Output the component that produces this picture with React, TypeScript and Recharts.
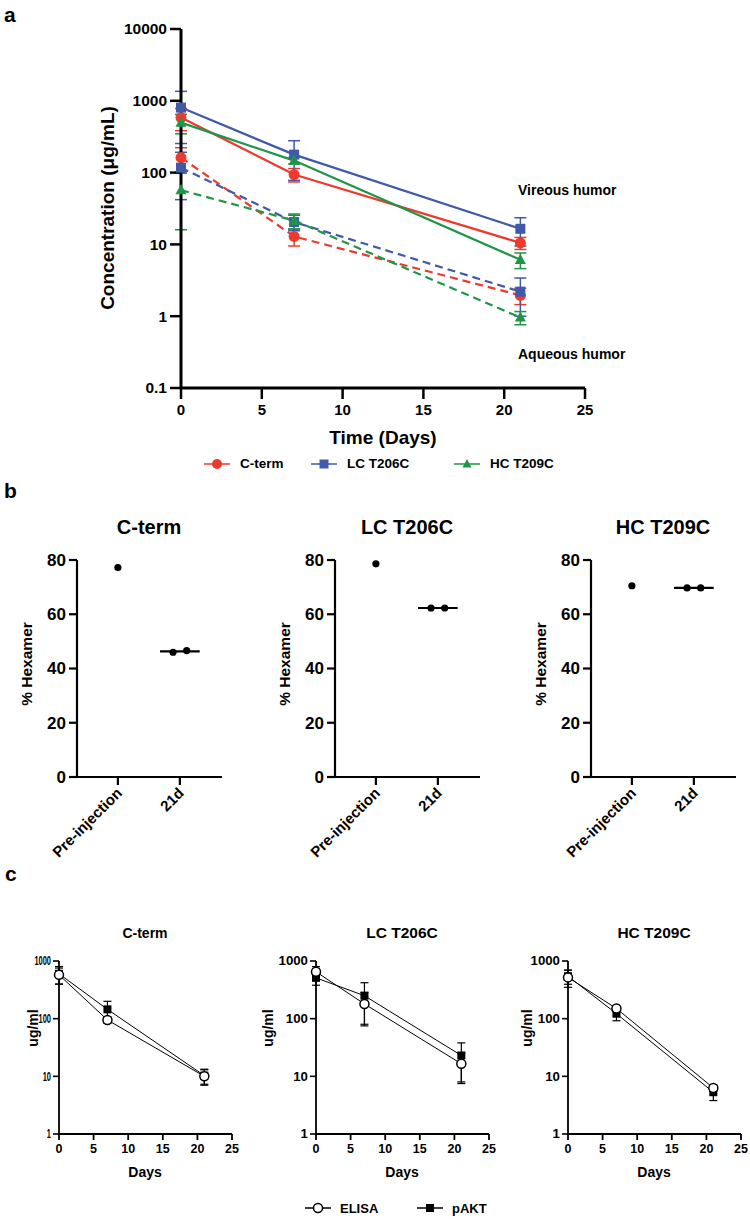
import React from 'react';
import { ErrorBar, Line, LineChart, ReferenceLine, Scatter, ScatterChart, XAxis, YAxis } from 'recharts';

const FONT = "'Liberation Sans', Arial, Helvetica, sans-serif";
const RED = '#EE3A2C';
const BLUE = '#4059A9';
const GREEN = '#1F9548';

// panel a: concentration in vitreous (solid) and aqueous (dashed) humor
const days = [0, 7, 21];
const vitreousCTerm = [584, 94, 10.5];
const vitreousCTermSd = [200, 20, 2];
const vitreousLc = [804, 178, 16.5];
const vitreousLcSd = [550, 100, 7];
const vitreousHc = [497, 147, 6.1];
const vitreousHcSd = [150, 15, 1.5];
const aqueousCTerm = [162, 12.9, 1.95];
const aqueousCTermSd = [60, 3.4, 0.5];
const aqueousLc = [117, 20.5, 2.2];
const aqueousLcSd = [75, 5, 1.2];
const aqueousHc = [57, 21.5, 0.96];
const aqueousHcSd = [41, 5, 0.2];

const concTicks = [0.1, 1, 10, 100, 1000, 10000];
const dayMajorTicks = [0, 5, 10, 15, 20, 25];
const dayTicks = [0, 1, 2, 3, 4, 5, 6, 7, 8, 9, 10, 11, 12, 13, 14, 15, 16, 17, 18, 19, 20, 21, 22, 23, 24, 25];

// panel b: % hexamer
const hexCategories = ['Pre-injection', '21d'];
const hexTicks = [0, 20, 40, 60, 80];
const hexPreCTerm = [77.2];
const hex21dCTerm = [46.0, 46.6];
const hexPreLc = [78.6];
const hex21dLc = [62.3, 62.3];
const hexPreHc = [70.5];
const hex21dHc = [69.7, 69.7];

// panel c: ELISA vs pAKT
const pkDays = [0, 7, 21];
const pkDayTicks = [0, 5, 10, 15, 20, 25];
const pkTicks = [1, 2, 3, 4, 5, 6, 7, 8, 9, 10, 20, 30, 40, 50, 60, 70, 80, 90, 100, 200, 300, 400, 500, 600, 700, 800, 900, 1000];
const pkMajor = [1, 10, 100, 1000];
const elisaCTerm = [575, 95, 10];
const elisaCTermSd = [180, 12, 3];
const paktCTerm = [600, 145, 10.3];
const paktCTermSd = [200, 55, 3];
const elisaLc = [650, 180, 16.5];
const elisaLcSd = [150, 105, 9];
const paktLc = [510, 250, 23];
const paktLcSd = [130, 170, 15];
const elisaHc = [520, 150, 6.3];
const elisaHcSd = [170, 10, 0.8];
const paktHc = [545, 122, 5.3];
const paktHcSd = [150, 30, 1.5];

type Shape = 'circle' | 'square' | 'triangle' | 'open';

const concSeries = [
  { key: 'vitC', values: vitreousCTerm, sds: vitreousCTermSd, color: RED, shape: 'circle' as Shape, dashed: false },
  { key: 'vitLc', values: vitreousLc, sds: vitreousLcSd, color: BLUE, shape: 'square' as Shape, dashed: false },
  { key: 'vitHc', values: vitreousHc, sds: vitreousHcSd, color: GREEN, shape: 'triangle' as Shape, dashed: false },
  { key: 'aqC', values: aqueousCTerm, sds: aqueousCTermSd, color: RED, shape: 'circle' as Shape, dashed: true },
  { key: 'aqLc', values: aqueousLc, sds: aqueousLcSd, color: BLUE, shape: 'square' as Shape, dashed: true },
  { key: 'aqHc', values: aqueousHc, sds: aqueousHcSd, color: GREEN, shape: 'triangle' as Shape, dashed: true },
];

// one row per day, one column per series (+ its SD)
const concRows = days.map((day, i) => {
  const row: Record<string, number> = { day };
  concSeries.forEach((s) => {
    row[s.key] = s.values[i];
    row[`${s.key}Sd`] = s.sds[i];
  });
  return row;
});

const legendItems = [
  { name: 'C-term', color: RED, shape: 'circle' as Shape, x: 204 },
  { name: 'LC T206C', color: BLUE, shape: 'square' as Shape, x: 311 },
  { name: 'HC T209C', color: GREEN, shape: 'triangle' as Shape, x: 454 },
];

const hexPanels = [
  { title: 'C-term', x0: 77, pre: hexPreCTerm, d21: hex21dCTerm },
  { title: 'LC T206C', x0: 335, pre: hexPreLc, d21: hex21dLc },
  { title: 'HC T209C', x0: 591, pre: hexPreHc, d21: hex21dHc },
];

// the C-term plot of panel c is squeezed sideways in the original figure
const pkPanels = [
  { title: 'C-term', x0: 59, labelDx: 26, squeeze: 0.62, titleSize: 14, elisa: elisaCTerm, elisaSd: elisaCTermSd, pakt: paktCTerm, paktSd: paktCTermSd },
  { title: 'LC T206C', x0: 316, labelDx: 48, squeeze: 1.1, titleSize: 15.5, elisa: elisaLc, elisaSd: elisaLcSd, pakt: paktLc, paktSd: paktLcSd },
  { title: 'HC T209C', x0: 568, labelDx: 41, squeeze: 1.1, titleSize: 15.5, elisa: elisaHc, elisaSd: elisaHcSd, pakt: paktHc, paktSd: paktHcSd },
];

function Marker({ cx, cy, shape, color, size }: { cx?: number; cy?: number; shape: Shape; color: string; size: number }) {
  if (cx == null || cy == null) return null;
  const h = size / 2;
  if (shape === 'square') return <rect x={cx - h} y={cy - h} width={size} height={size} fill={color} />;
  if (shape === 'triangle') {
    return <polygon points={`${cx},${cy - h * 1.1} ${cx - h},${cy + h * 0.75} ${cx + h},${cy + h * 0.75}`} fill={color} />;
  }
  if (shape === 'open') return <circle cx={cx} cy={cy} r={h} fill='#fff' stroke={color} strokeWidth={1.5} />;
  return <circle cx={cx} cy={cy} r={h} fill={color} />;
}

function Txt({
  x,
  y,
  size,
  children,
  rotate = 0,
  align = 'center',
}: {
  x: number;
  y: number;
  size: number;
  children: React.ReactNode;
  rotate?: number;
  align?: 'center' | 'left';
}) {
  return (
    <div
      style={{
        position: 'absolute',
        left: x,
        top: y,
        transform: `translate(${align === 'center' ? '-50%' : '0'}, -50%) rotate(${rotate}deg)`,
        fontSize: size,
        fontWeight: 700,
        fontFamily: FONT,
        whiteSpace: 'nowrap',
        lineHeight: 1,
        color: '#000',
      }}
    >
      {children}
    </div>
  );
}

const tickText = { fontFamily: FONT, fontWeight: 700, fill: '#000' };

function ConcentrationChart() {
  return (
    <LineChart width={750} height={450} data={concRows} margin={{ top: 29, right: 165, bottom: 30, left: 100 }}>
      {/* minor day ticks, no labels; declared first so it sits on the axis line */}
      <XAxis
        xAxisId='minor'
        type='number'
        dataKey='day'
        domain={[0, 25]}
        ticks={dayTicks}
        interval={0}
        height={0}
        tickSize={7}
        tickLine={{ stroke: '#000', strokeWidth: 2.5 }}
        axisLine={false}
        tick={false}
      />
      <XAxis
        xAxisId='main'
        type='number'
        dataKey='day'
        domain={[0, 25]}
        ticks={dayMajorTicks}
        interval={0}
        height={32}
        tickSize={11}
        tickMargin={5}
        tickLine={{ stroke: '#000', strokeWidth: 2.5 }}
        axisLine={{ stroke: '#000', strokeWidth: 3 }}
        tick={(p: any) => (
          <text key={`dt-${p.payload.value}`} x={p.x} y={p.y} dy='0.71em' textAnchor='middle' fontSize={15} {...tickText}>
            {p.payload.value}
          </text>
        )}
      />
      <YAxis
        type='number'
        scale='log'
        domain={[0.1, 10000]}
        ticks={concTicks}
        interval={0}
        width={81}
        tickSize={11}
        tickMargin={3}
        tickLine={{ stroke: '#000', strokeWidth: 2.5 }}
        axisLine={{ stroke: '#000', strokeWidth: 3 }}
        tick={(p: any) => (
          <text key={`ct-${p.payload.value}`} x={p.x} y={p.y} dy='0.35em' textAnchor='end' fontSize={15.5} {...tickText}>
            {p.payload.value}
          </text>
        )}
      />
      {concSeries.map((s) => (
        <Line
          key={s.key}
          xAxisId='main'
          dataKey={s.key}
          stroke={s.color}
          strokeWidth={2.2}
          strokeDasharray={s.dashed ? '8 5' : undefined}
          isAnimationActive={false}
          activeDot={false}
          dot={(p: any) => (
            <Marker
              key={`${s.key}-${p.index}`}
              cx={p.cx}
              cy={p.cy}
              shape={s.shape}
              color={s.color}
              size={s.shape === 'square' ? 10 : 11}
            />
          )}
        >
          <ErrorBar dataKey={`${s.key}Sd`} width={6} strokeWidth={1.5} stroke={s.color} direction='y' isAnimationActive={false} />
        </Line>
      ))}
    </LineChart>
  );
}

function median(values: number[]) {
  const sorted = [...values].sort((a, b) => a - b);
  const mid = Math.floor(sorted.length / 2);
  return sorted.length % 2 ? sorted[mid] : (sorted[mid - 1] + sorted[mid]) / 2;
}

function HexamerChart({ pre, d21 }: { pre: number[]; d21: number[] }) {
  const points = [
    ...pre.map((y) => ({ x: 1, y })),
    ...d21.map((y, i) => ({ x: 2 + (i - (d21.length - 1) / 2) * 0.22, y })),
  ];
  const med = median(d21);
  return (
    <ScatterChart width={260} height={330} data={points} margin={{ top: 20, right: 38, bottom: 0, left: 20 }}>
      <XAxis
        type='number'
        dataKey='x'
        domain={[0.34, 2.68]}
        ticks={[1, 2]}
        interval={0}
        height={93}
        tickSize={8}
        tickMargin={0}
        tickLine={{ stroke: '#000', strokeWidth: 2.2 }}
        axisLine={{ stroke: '#000', strokeWidth: 2.2 }}
        tick={(p: any) => (
          <text
            key={`hx-${p.payload.value}`}
            x={p.x + 5}
            y={p.y + 9}
            textAnchor='end'
            fontSize={15}
            transform={`rotate(-45, ${p.x + 5}, ${p.y + 9})`}
            {...tickText}
          >
            {hexCategories[p.payload.value - 1]}
          </text>
        )}
      />
      <YAxis
        type='number'
        dataKey='y'
        domain={[0, 80]}
        ticks={hexTicks}
        interval={0}
        width={57}
        tickSize={8}
        tickMargin={3}
        tickLine={{ stroke: '#000', strokeWidth: 2.2 }}
        axisLine={{ stroke: '#000', strokeWidth: 2.2 }}
        tick={(p: any) => (
          <text key={`hy-${p.payload.value}`} x={p.x} y={p.y} dy='0.35em' textAnchor='end' fontSize={17} {...tickText}>
            {p.payload.value}
          </text>
        )}
      />
      <ReferenceLine
        segment={[
          { x: 2 - 0.32, y: med },
          { x: 2 + 0.32, y: med },
        ]}
        stroke='#000'
        strokeWidth={2.2}
      />
      <Scatter
        data={points}
        isAnimationActive={false}
        shape={(p: any) => <circle cx={p.cx} cy={p.cy} r={3.6} fill='#000' />}
      />
    </ScatterChart>
  );
}

function PkChart({
  elisa,
  elisaSd,
  pakt,
  paktSd,
  squeeze,
}: {
  elisa: number[];
  elisaSd: number[];
  pakt: number[];
  paktSd: number[];
  squeeze: number;
}) {
  const rows = pkDays.map((day, i) => ({
    day,
    elisa: elisa[i],
    elisaSd: elisaSd[i],
    pakt: pakt[i],
    paktSd: paktSd[i],
  }));
  const series = [
    { key: 'pakt', shape: 'square' as Shape, size: 8 },
    { key: 'elisa', shape: 'open' as Shape, size: 9 },
  ];
  return (
    <LineChart width={240} height={230} data={rows} margin={{ top: 21, right: 8, bottom: 0, left: 14 }}>
      <XAxis
        type='number'
        dataKey='day'
        domain={[0, 25]}
        ticks={pkDayTicks}
        interval={0}
        height={36}
        tickSize={6}
        tickMargin={4}
        tickLine={{ stroke: '#000', strokeWidth: 1.8 }}
        axisLine={{ stroke: '#000', strokeWidth: 1.8 }}
        tick={(p: any) => (
          <text key={`px-${p.payload.value}`} x={p.x} y={p.y} dy='0.71em' textAnchor='middle' fontSize={12.5} {...tickText}>
            {p.payload.value}
          </text>
        )}
      />
      {/* minor log ticks */}
      <YAxis
        yAxisId='minor'
        type='number'
        scale='log'
        domain={[1, 1000]}
        ticks={pkTicks}
        interval={0}
        width={0}
        tickSize={3.5}
        tickLine={{ stroke: '#000', strokeWidth: 1.3 }}
        axisLine={false}
        tick={false}
      />
      <YAxis
        yAxisId='main'
        type='number'
        scale='log'
        domain={[1, 1000]}
        ticks={pkMajor}
        interval={0}
        width={45}
        tickSize={6}
        tickMargin={2}
        tickLine={{ stroke: '#000', strokeWidth: 1.6 }}
        axisLine={{ stroke: '#000', strokeWidth: 1.8 }}
        tick={(p: any) => {
          const label = String(p.payload.value);
          return (
            <text
              key={`py-${p.payload.value}`}
              x={p.x}
              y={p.y}
              dy='0.35em'
              textAnchor='end'
              fontSize={12}
              textLength={label.length * 6.7 * squeeze}
              lengthAdjust='spacingAndGlyphs'
              {...tickText}
            >
              {label}
            </text>
          );
        }}
      />
      {series.map((s) => (
        <Line
          key={s.key}
          yAxisId='main'
          dataKey={s.key}
          stroke='#000'
          strokeWidth={1}
          isAnimationActive={false}
          activeDot={false}
          dot={(p: any) => (
            <Marker key={`${s.key}-${p.index}`} cx={p.cx} cy={p.cy} shape={s.shape} color='#000' size={s.size} />
          )}
        >
          <ErrorBar dataKey={`${s.key}Sd`} width={4} strokeWidth={1.2} stroke='#000' direction='y' isAnimationActive={false} />
        </Line>
      ))}
    </LineChart>
  );
}

function LegendSwatch({ x, y, shape, color, size }: { x: number; y: number; shape: Shape; color: string; size: number }) {
  return (
    <svg width={26} height={14} style={{ position: 'absolute', left: x, top: y - 7 }}>
      <line x1={0} y1={7} x2={26} y2={7} stroke={color} strokeWidth={1.5} />
      <Marker cx={13} cy={7} shape={shape} color={color} size={size} />
    </svg>
  );
}

export default function App() {
  return (
    <div style={{ position: 'absolute', left: 0, top: 0, width: 750, height: 1219, fontFamily: FONT }}>
      {/* a */}
      <div style={{ position: 'absolute', left: 0, top: 0 }}>
        <ConcentrationChart />
      </div>
      <Txt x={4} y={14} size={21} align='left'>
        a
      </Txt>
      <Txt x={107} y={208} size={19} rotate={-90}>
        Concentration (μg/mL)
      </Txt>
      <Txt x={383} y={437} size={19}>
        Time (Days)
      </Txt>
      <Txt x={518} y={190} size={14} align='left'>
        Vireous humor
      </Txt>
      <Txt x={518} y={354} size={14} align='left'>
        Aqueous humor
      </Txt>
      {legendItems.map((item) => (
        <React.Fragment key={item.name}>
          <LegendSwatch x={item.x} y={464} shape={item.shape} color={item.color} size={item.shape === 'circle' ? 10 : 9} />
          <Txt x={item.x + 36} y={464} size={13.5} align='left'>
            {item.name}
          </Txt>
        </React.Fragment>
      ))}

      {/* b */}
      <Txt x={4} y={490} size={21} align='left'>
        b
      </Txt>
      {hexPanels.map((panel) => (
        <React.Fragment key={panel.title}>
          <div style={{ position: 'absolute', left: panel.x0 - 77, top: 540 }}>
            <HexamerChart pre={panel.pre} d21={panel.d21} />
          </div>
          <Txt x={panel.x0 + 72} y={527} size={20}>
            {panel.title}
          </Txt>
          <Txt x={panel.x0 - 50} y={664} size={15.5} rotate={-90}>
            % Hexamer
          </Txt>
        </React.Fragment>
      ))}

      {/* c */}
      <Txt x={5} y={873} size={21} align='left'>
        c
      </Txt>
      {pkPanels.map((panel) => (
        <React.Fragment key={panel.title}>
          <div style={{ position: 'absolute', left: panel.x0 - 59, top: 940 }}>
            <PkChart
              elisa={panel.elisa}
              elisaSd={panel.elisaSd}
              pakt={panel.pakt}
              paktSd={panel.paktSd}
              squeeze={panel.squeeze}
            />
          </div>
          <Txt x={panel.x0 + 86} y={933} size={panel.titleSize}>
            {panel.title}
          </Txt>
          <Txt x={panel.x0 - panel.labelDx} y={1028} size={14} rotate={-90}>
            ug/ml
          </Txt>
          <Txt x={panel.x0 + 86} y={1172} size={14}>
            Days
          </Txt>
        </React.Fragment>
      ))}
      <LegendSwatch x={305} y={1208} shape='open' color='#000' size={9} />
      <Txt x={340} y={1208} size={13} align='left'>
        ELISA
      </Txt>
      <LegendSwatch x={417} y={1208} shape='square' color='#000' size={8} />
      <Txt x={452} y={1208} size={13} align='left'>
        pAKT
      </Txt>
    </div>
  );
}
